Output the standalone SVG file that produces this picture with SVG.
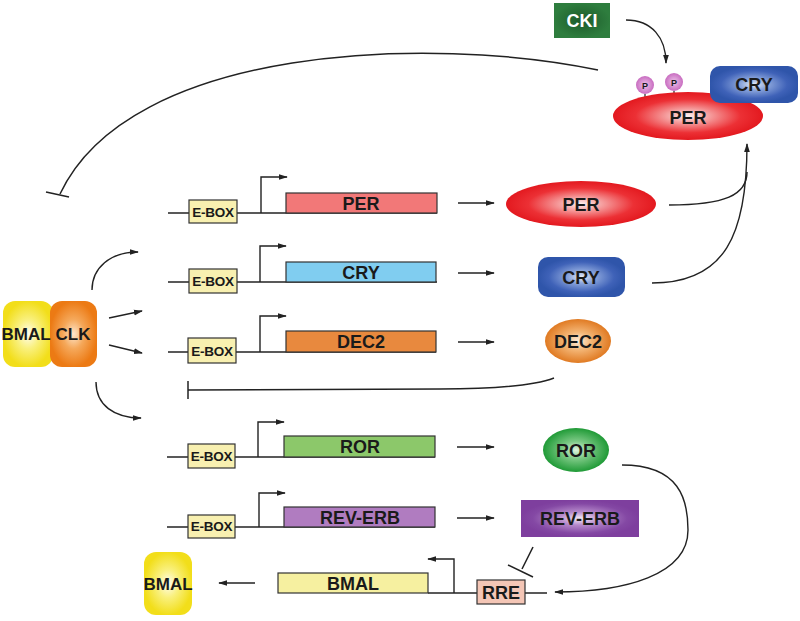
<svg xmlns="http://www.w3.org/2000/svg" width="800" height="621" viewBox="0 0 800 621">
<style>
text{font-family:"Liberation Sans",Arial,sans-serif;font-weight:bold;fill:#1a1a1a;text-anchor:middle}
.lbl{font-size:18px}
.eb{font-size:13.5px;letter-spacing:-0.3px}
.ln{fill:none;stroke:#222;stroke-width:1.5}
.ar{fill:none;stroke:#222;stroke-width:1.4;marker-end:url(#ah)}
.gene{stroke:#333;stroke-width:1.2}
.ebox{fill:#f8f0b0;stroke:#333;stroke-width:1.2}
</style>
<defs>
<marker id="ah" viewBox="0 0 10 10" refX="9" refY="5" markerWidth="9" markerHeight="9" markerUnits="userSpaceOnUse" orient="auto"><path d="M0,1.8 L10,5 L0,8.2 Z" fill="#222"/></marker>
<radialGradient id="gRed"><stop offset="0" stop-color="#fdf2f2"/><stop offset="0.25" stop-color="#f6a8a8"/><stop offset="0.7" stop-color="#ec3035"/><stop offset="1" stop-color="#e3191f"/></radialGradient>
<radialGradient id="gBlue"><stop offset="0" stop-color="#e6ecf8"/><stop offset="0.3" stop-color="#8ca6dc"/><stop offset="0.75" stop-color="#3f62b8"/><stop offset="1" stop-color="#2f55aa"/></radialGradient>
<radialGradient id="gOrange"><stop offset="0" stop-color="#fdeedd"/><stop offset="0.4" stop-color="#f4b676"/><stop offset="1" stop-color="#e07a22"/></radialGradient>
<radialGradient id="gGreen"><stop offset="0" stop-color="#e0f4e0"/><stop offset="0.4" stop-color="#7cc985"/><stop offset="1" stop-color="#1f9a36"/></radialGradient>
<radialGradient id="gPurple"><stop offset="0" stop-color="#f6eef8"/><stop offset="0.35" stop-color="#b68acb"/><stop offset="0.8" stop-color="#8448a4"/><stop offset="1" stop-color="#7e3f9e"/></radialGradient>
<radialGradient id="gYellow"><stop offset="0" stop-color="#fffdf0"/><stop offset="0.45" stop-color="#f9f07c"/><stop offset="1" stop-color="#f2de1a"/></radialGradient>
<radialGradient id="gClk"><stop offset="0" stop-color="#fde6cc"/><stop offset="0.45" stop-color="#f5a85a"/><stop offset="1" stop-color="#ec7a14"/></radialGradient>
<radialGradient id="gCki"><stop offset="0" stop-color="#1c5a2a"/><stop offset="1" stop-color="#2e7d3e"/></radialGradient>
<radialGradient id="gP"><stop offset="0" stop-color="#eec4ea"/><stop offset="1" stop-color="#c86cc0"/></radialGradient>
</defs>

<g id="connectors">
<path class="ln" d="M598,70 C430,35 130,45 60,194"/>
<line class="ln" x1="46" y1="192" x2="69" y2="197"/>
<path class="ar" d="M626,20 C652,20 666,38 666,63"/>
<path class="ln" d="M669,205 C725,205 747,195 747,172"/>
<path class="ar" d="M652,283 C725,283 747,235 747,144"/>
<path class="ar" d="M92,290 C92,268 110,252 138,252"/>
<line class="ar" x1="109" y1="318" x2="142" y2="311"/>
<line class="ar" x1="109" y1="345" x2="142" y2="353"/>
<path class="ar" d="M96,382 C96,405 114,418 141,418"/>
<path class="ln" d="M554,378 C530,387 480,389 440,389 L188,390"/>
<line class="ln" x1="188" y1="381" x2="188" y2="399"/>
<line class="ar" x1="458" y1="203" x2="494" y2="203"/>
<line class="ar" x1="458" y1="273" x2="494" y2="273"/>
<line class="ar" x1="458" y1="342" x2="494" y2="342"/>
<line class="ar" x1="457" y1="447" x2="494" y2="447"/>
<line class="ar" x1="457" y1="518" x2="494" y2="518"/>
<line class="ar" x1="255" y1="583" x2="219" y2="583"/>
<path class="ar" d="M622,465 C680,465 688,500 688,530 C688,575 625,592 555,592"/>
<line class="ln" x1="533" y1="547" x2="522" y2="569"/>
<line class="ln" x1="508" y1="565" x2="533" y2="577"/>
</g>

<g id="gene-per">
<line class="ln" x1="168" y1="213" x2="437" y2="213"/>
<path class="ar" d="M261,213 V177 H287"/>
<rect class="ebox" x="189" y="200" width="48" height="23"/>
<text class="eb" x="213" y="217">E-BOX</text>
<rect class="gene" x="286" y="193" width="151" height="20" fill="#f27878"/>
<text class="lbl" x="361" y="210">PER</text>
</g>
<g id="gene-cry">
<line class="ln" x1="168" y1="282" x2="437" y2="282"/>
<path class="ar" d="M260,282 V246 H286"/>
<rect class="ebox" x="189" y="269" width="48" height="24"/>
<text class="eb" x="213" y="286">E-BOX</text>
<rect class="gene" x="286" y="262" width="150" height="20" fill="#80cdf0"/>
<text class="lbl" x="361" y="279">CRY</text>
</g>
<g id="gene-dec2">
<line class="ln" x1="168" y1="352" x2="436" y2="352"/>
<path class="ar" d="M260,352 V316 H286"/>
<rect class="ebox" x="188" y="338" width="48" height="25"/>
<text class="eb" x="212" y="356">E-BOX</text>
<rect class="gene" x="286" y="331" width="150" height="21" fill="#e8893e"/>
<text class="lbl" x="361" y="348">DEC2</text>
</g>
<g id="gene-ror">
<line class="ln" x1="167" y1="457" x2="435" y2="457"/>
<path class="ar" d="M258,457 V422 H284"/>
<rect class="ebox" x="188" y="444" width="47" height="24"/>
<text class="eb" x="211.5" y="461">E-BOX</text>
<rect class="gene" x="284" y="436" width="151" height="21" fill="#8cc86a"/>
<text class="lbl" x="360" y="453">ROR</text>
</g>
<g id="gene-reverb">
<line class="ln" x1="167" y1="527" x2="435" y2="527"/>
<path class="ar" d="M259,527 V493 H285"/>
<rect class="ebox" x="188" y="515" width="47" height="23"/>
<text class="eb" x="211.5" y="531">E-BOX</text>
<rect class="gene" x="284" y="507" width="151" height="20" fill="#b07cc0"/>
<text class="lbl" x="360" y="524">REV-ERB</text>
</g>
<g id="gene-bmal">
<line class="ln" x1="428" y1="593" x2="547" y2="593"/>
<path class="ar" d="M454,593 V559 H428"/>
<rect class="gene" x="278" y="573" width="150" height="20" fill="#f6f0a0"/>
<text class="lbl" x="353" y="590">BMAL</text>
<rect x="477" y="580" width="48" height="24" fill="#f4c6b6" stroke="#333" stroke-width="1.2"/>
<text class="lbl" x="501" y="599">RRE</text>
</g>

<g id="bmal-clk">
<rect x="3" y="301" width="50" height="66" rx="12" fill="url(#gYellow)"/>
<rect x="50" y="301" width="47" height="66" rx="12" fill="url(#gClk)"/>
<text class="lbl" x="26" y="340" style="font-size:17px">BMAL</text>
<text class="lbl" x="73" y="340" style="font-size:17px">CLK</text>
</g>

<g id="cki">
<rect x="554" y="3" width="56" height="35" fill="url(#gCki)"/>
<text class="lbl" x="582" y="27" style="fill:#fff">CKI</text>
</g>

<g id="per-complex">
<line x1="645" y1="94" x2="645" y2="100" stroke="#222" stroke-width="1.2"/>
<line x1="674" y1="91" x2="674" y2="97" stroke="#222" stroke-width="1.2"/>
<circle cx="645" cy="85" r="9" fill="url(#gP)"/>
<circle cx="674" cy="82" r="9" fill="url(#gP)"/>
<text x="645" y="89" style="font-size:9px">P</text>
<text x="674" y="86" style="font-size:9px">P</text>
<ellipse cx="688" cy="116" rx="75" ry="24" fill="url(#gRed)"/>
<text class="lbl" x="688" y="124">PER</text>
<rect x="710" y="66" width="88" height="37" rx="10" fill="url(#gBlue)"/>
<text class="lbl" x="754" y="91">CRY</text>
</g>

<g id="per-protein">
<ellipse cx="581" cy="204" rx="75" ry="23" fill="url(#gRed)"/>
<text class="lbl" x="581" y="211">PER</text>
</g>
<g id="cry-protein">
<rect x="538" y="257" width="87" height="40" rx="10" fill="url(#gBlue)"/>
<text class="lbl" x="581" y="284">CRY</text>
</g>
<g id="dec2-protein">
<ellipse cx="578" cy="341" rx="33" ry="22" fill="url(#gOrange)"/>
<text class="lbl" x="578" y="348">DEC2</text>
</g>
<g id="ror-protein">
<ellipse cx="576" cy="450" rx="33" ry="22" fill="url(#gGreen)"/>
<text class="lbl" x="576" y="457">ROR</text>
</g>
<g id="reverb-protein">
<rect x="521" y="500" width="118" height="37" fill="url(#gPurple)"/>
<text class="lbl" x="580" y="525">REV-ERB</text>
</g>
<g id="bmal-protein">
<rect x="144" y="552" width="48" height="63" rx="12" fill="url(#gYellow)"/>
<text class="lbl" x="168" y="590" style="font-size:17px">BMAL</text>
</g>
</svg>
